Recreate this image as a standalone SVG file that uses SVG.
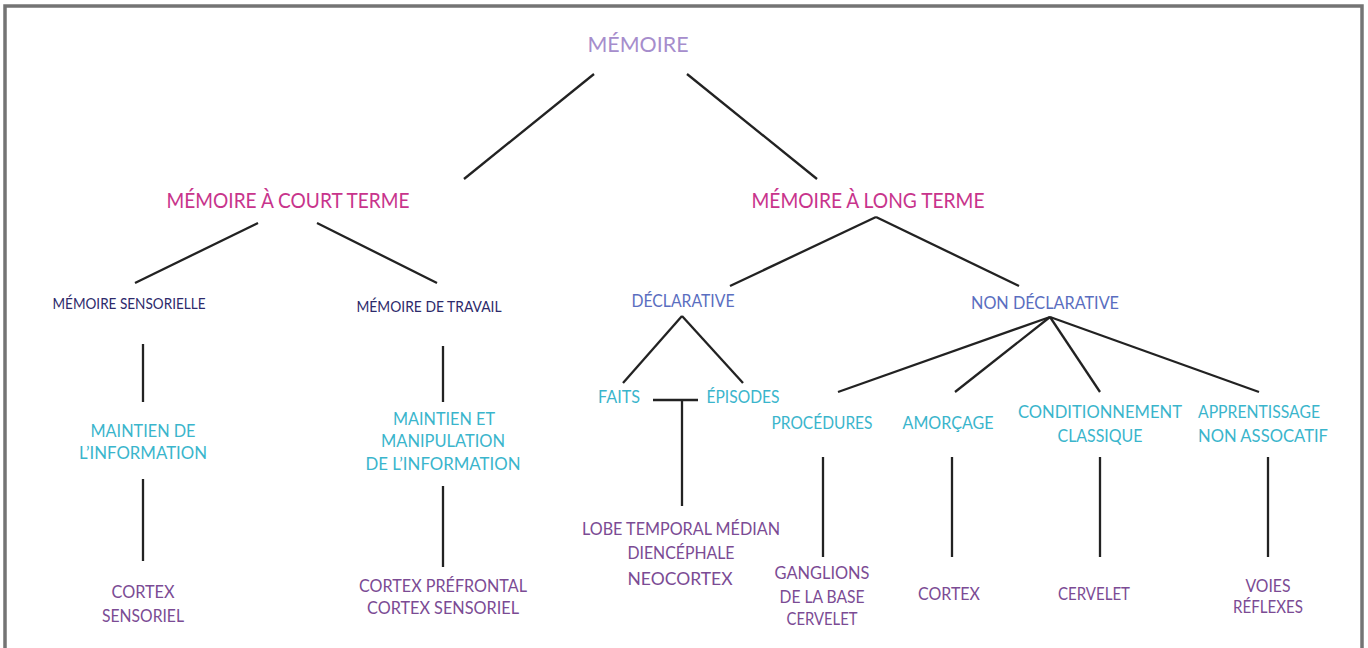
<svg xmlns="http://www.w3.org/2000/svg" width="1368" height="648" viewBox="0 0 1368 648">
<style>
text{font-family:Lato,"Open Sans","Liberation Sans",sans-serif;text-anchor:middle}
.root{font-size:22px;fill:#a68dcc}
.mag{font-size:21px;fill:#c8348c}
.navy{font-size:15px;fill:#2d2a6b}
.blue{font-size:17px;fill:#5a6ec0}
.cyan{font-size:18px;fill:#3ab5cc}
.purp{font-size:18px;fill:#7b4b94}
.conn line{stroke:#222;stroke-width:2.3;stroke-linecap:butt}
</style>
<rect width="1368" height="648" fill="#fff"/>
<path d="M5,648 V6 H1362 V648" fill="none" stroke="#747474" stroke-width="3.5"/>
<g class="conn" id="connectors">
<line x1="594" y1="74" x2="464" y2="179"/>
<line x1="687" y1="74" x2="817" y2="179"/>
<line x1="258" y1="223" x2="135" y2="283"/>
<line x1="317" y1="223" x2="437" y2="283"/>
<line x1="143" y1="344" x2="143" y2="402"/>
<line x1="143" y1="479" x2="143" y2="561"/>
<line x1="443" y1="346" x2="443" y2="402"/>
<line x1="443" y1="486" x2="443" y2="567"/>
<line x1="876" y1="217" x2="730" y2="286"/>
<line x1="876" y1="217" x2="1019" y2="286"/>
<line x1="682" y1="316" x2="623" y2="383"/>
<line x1="682" y1="316" x2="743" y2="383"/>
<line x1="653" y1="400" x2="698" y2="400"/>
<line x1="682" y1="400" x2="682" y2="506"/>
<line x1="1050" y1="317" x2="838" y2="392"/>
<line x1="1050" y1="317" x2="955" y2="392"/>
<line x1="1050" y1="317" x2="1100" y2="392"/>
<line x1="1050" y1="317" x2="1259" y2="392"/>
<line x1="823" y1="457" x2="823" y2="557"/>
<line x1="952" y1="457" x2="952" y2="557"/>
<line x1="1100" y1="457" x2="1100" y2="557"/>
<line x1="1268" y1="457" x2="1268" y2="557"/>
</g>
<g id="memoire"><text class="root" x="638" y="52" textLength="101" lengthAdjust="spacingAndGlyphs">MÉMOIRE</text></g>
<g id="court-terme"><text class="mag" x="288" y="208" textLength="243" lengthAdjust="spacingAndGlyphs">MÉMOIRE À COURT TERME</text></g>
<g id="long-terme"><text class="mag" x="868" y="208" textLength="233" lengthAdjust="spacingAndGlyphs">MÉMOIRE À LONG TERME</text></g>
<g id="sensorielle"><text class="navy" x="129" y="309" textLength="153" lengthAdjust="spacingAndGlyphs">MÉMOIRE SENSORIELLE</text></g>
<g id="travail"><text class="navy" x="429" y="312" textLength="145" lengthAdjust="spacingAndGlyphs">MÉMOIRE DE TRAVAIL</text></g>
<g id="declarative"><text class="blue" x="683" y="307" textLength="103" lengthAdjust="spacingAndGlyphs">DÉCLARATIVE</text></g>
<g id="non-declarative"><text class="blue" x="1045" y="309" textLength="148" lengthAdjust="spacingAndGlyphs">NON DÉCLARATIVE</text></g>
<g id="maintien">
<text class="cyan" x="143" y="437" textLength="105" lengthAdjust="spacingAndGlyphs">MAINTIEN DE</text>
<text class="cyan" x="143" y="459" textLength="128" lengthAdjust="spacingAndGlyphs">L’INFORMATION</text>
</g>
<g id="maintien-manip">
<text class="cyan" x="444" y="425" textLength="102" lengthAdjust="spacingAndGlyphs">MAINTIEN ET</text>
<text class="cyan" x="443" y="447" textLength="124" lengthAdjust="spacingAndGlyphs">MANIPULATION</text>
<text class="cyan" x="443" y="470" textLength="155" lengthAdjust="spacingAndGlyphs">DE L’INFORMATION</text>
</g>
<g id="cortex-sensoriel">
<text class="purp" x="143" y="598" textLength="63" lengthAdjust="spacingAndGlyphs">CORTEX</text>
<text class="purp" x="143" y="622" textLength="82" lengthAdjust="spacingAndGlyphs">SENSORIEL</text>
</g>
<g id="cortex-prefrontal">
<text class="purp" x="443" y="592" textLength="168" lengthAdjust="spacingAndGlyphs">CORTEX PRÉFRONTAL</text>
<text class="purp" x="443" y="614" textLength="152" lengthAdjust="spacingAndGlyphs">CORTEX SENSORIEL</text>
</g>
<g id="faits"><text class="cyan" x="619" y="403" textLength="42" lengthAdjust="spacingAndGlyphs">FAITS</text></g>
<g id="episodes"><text class="cyan" x="743" y="403" textLength="73" lengthAdjust="spacingAndGlyphs">ÉPISODES</text></g>
<g id="lobe">
<text class="purp" x="681" y="535" textLength="198" lengthAdjust="spacingAndGlyphs">LOBE TEMPORAL MÉDIAN</text>
<text class="purp" x="681" y="559" textLength="107" lengthAdjust="spacingAndGlyphs">DIENCÉPHALE</text>
<text class="purp" x="680" y="585" textLength="105" lengthAdjust="spacingAndGlyphs">NEOCORTEX</text>
</g>
<g id="procedures"><text class="cyan" x="822" y="429" textLength="101" lengthAdjust="spacingAndGlyphs">PROCÉDURES</text></g>
<g id="amorcage"><text class="cyan" x="948" y="429" textLength="91" lengthAdjust="spacingAndGlyphs">AMORÇAGE</text></g>
<g id="conditionnement">
<text class="cyan" x="1100" y="418" textLength="164" lengthAdjust="spacingAndGlyphs">CONDITIONNEMENT</text>
<text class="cyan" x="1100" y="442" textLength="85" lengthAdjust="spacingAndGlyphs">CLASSIQUE</text>
</g>
<g id="apprentissage">
<text class="cyan" x="1198" y="418" style="text-anchor:start" textLength="122" lengthAdjust="spacingAndGlyphs">APPRENTISSAGE</text>
<text class="cyan" x="1198" y="442" style="text-anchor:start" textLength="130" lengthAdjust="spacingAndGlyphs">NON ASSOCATIF</text>
</g>
<g id="ganglions">
<text class="purp" x="822" y="579" textLength="95" lengthAdjust="spacingAndGlyphs">GANGLIONS</text>
<text class="purp" x="822" y="603" textLength="85" lengthAdjust="spacingAndGlyphs">DE LA BASE</text>
<text class="purp" x="822" y="625" textLength="71" lengthAdjust="spacingAndGlyphs">CERVELET</text>
</g>
<g id="cortex"><text class="purp" x="949" y="600" textLength="62" lengthAdjust="spacingAndGlyphs">CORTEX</text></g>
<g id="cervelet"><text class="purp" x="1094" y="600" textLength="72" lengthAdjust="spacingAndGlyphs">CERVELET</text></g>
<g id="voies">
<text class="purp" x="1268" y="592" textLength="45" lengthAdjust="spacingAndGlyphs">VOIES</text>
<text class="purp" x="1268" y="613" textLength="70" lengthAdjust="spacingAndGlyphs">RÉFLEXES</text>
</g>
</svg>
